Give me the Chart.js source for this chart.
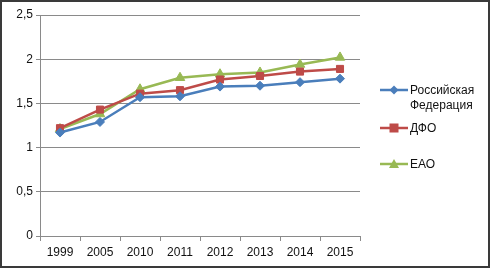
<!DOCTYPE html>
<html><head><meta charset="utf-8">
<script src="https://cdn.jsdelivr.net/npm/chart.js@4"></script>
<style>
html,body{margin:0;padding:0;background:#fff;}
#wrap{position:relative;width:490px;height:268px;overflow:hidden;}
#frame{position:absolute;left:0;top:0;width:486px;height:264px;border:2px solid #3a3a3a;pointer-events:none;}
canvas{position:absolute;left:0;top:0;}
.leg{position:absolute;font-family:"Liberation Sans",Arial,sans-serif;font-size:12px;color:#111;line-height:15px;}
.leg svg{position:absolute;left:0;}
</style></head>
<body>
<div id="wrap">
<canvas id="c" width="490" height="268"></canvas>
<div id="legend"></div>
<div id="frame"></div>
</div>
<script>
const categories = ["1999","2005","2010","2011","2012","2013","2014","2015"];
const seriesNames = ["Российская Федерация","ДФО","ЕАО"];
const rf  = [1.17,1.29,1.57,1.58,1.69,1.70,1.74,1.78];
const dfo = [1.22,1.43,1.61,1.65,1.77,1.81,1.86,1.89];
const eao = [1.21,1.38,1.66,1.79,1.83,1.85,1.94,2.02];
const yTicks = [0,0.5,1,1.5,2,2.5];

const colors = ["#4A7EBB","#BE4B48","#98B954"];
const styles = ["rectRot","rect","triangle"];
const radii = [4.5,5,5.5];
const values = [rf,dfo,eao];

const font = {family:'"Liberation Sans", Arial, sans-serif', size:12};

new Chart(document.getElementById('c'), {
  type:'line',
  data:{
    labels:categories,
    datasets: values.map((v,i)=>({
      label:seriesNames[i], data:v,
      borderColor:colors[i], backgroundColor:colors[i],
      borderWidth:2.5, pointStyle:styles[i], pointRadius:radii[i],
      pointBorderWidth:1, pointBorderColor:colors[i], tension:0
    }))
  },
  options:{
    responsive:false, animation:false,
    layout:{padding:{left:0,top:15,right:130,bottom:0}},
    plugins:{legend:{display:false},tooltip:{enabled:false}},
    scales:{
      x:{
        offset:true,
        grid:{offset:true,drawOnChartArea:false,color:'#8a8a8a',tickLength:5},
        border:{color:'#8a8a8a'},
        ticks:{color:'#111',font:font,padding:4,maxRotation:0},
        afterFit:s=>{s.height=32;}
      },
      y:{
        min:0,max:2.5,
        afterBuildTicks:s=>{s.ticks=yTicks.map(v=>({value:v}));},
        grid:{color:'#8a8a8a',tickLength:4},
        border:{color:'#8a8a8a'},
        ticks:{color:'#111',font:font,padding:3,callback:v=>String(v).replace('.',',')},
        afterFit:s=>{s.width=40;}
      }
    }
  }
});

// HTML legend
const legendPos = [{y:83,lines:["Российская","Федерация"]},{y:121,lines:["ДФО"]},{y:157,lines:["ЕАО"]}];
function markerSvg(i){
  const c=colors[i];
  let m='';
  if(i===0) m=`<polygon points="14,0.5 18.5,5 14,9.5 9.5,5" fill="${c}"/>`;
  if(i===1) m=`<rect x="9.5" y="0.5" width="9" height="9" fill="${c}"/>`;
  if(i===2) m=`<polygon points="14,0 19,9 9,9" fill="${c}"/>`;
  return `<svg width="28" height="10" viewBox="0 0 28 10"><line x1="0" y1="5" x2="28" y2="5" stroke="${c}" stroke-width="2.5"/>${m}</svg>`;
}
const lg=document.getElementById('legend');
legendPos.forEach((p,i)=>{
  const d=document.createElement('div');
  d.className='leg';
  d.style.left='380px'; d.style.top=p.y+'px';
  d.innerHTML=markerSvg(i).replace('<svg','<svg style="top:2px"')+'<div style="margin-left:30px">'+p.lines.join('<br>')+'</div>';
  lg.appendChild(d);
});
</script>
</body></html>
